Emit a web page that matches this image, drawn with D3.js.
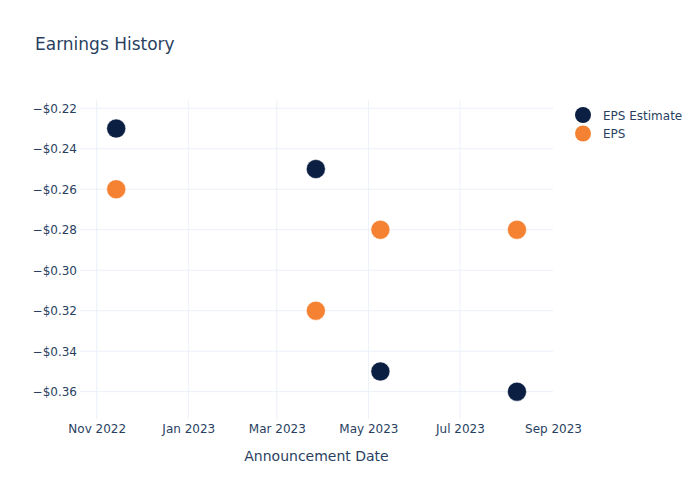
<!DOCTYPE html>
<html><head><meta charset="utf-8">
<script src="https://cdn.jsdelivr.net/npm/d3@7"></script>
<style>body{margin:0;background:#fff;font-family:"DejaVu Sans",sans-serif;}</style>
</head><body><div id="chart"></div>
<script>
const dates = ["2022-11-14","2023-03-27","2023-05-09","2023-08-08"];
const epsEstimate = [-0.23,-0.25,-0.35,-0.36];
const eps = [-0.26,-0.32,-0.28,-0.28];
const seriesNames = ["EPS Estimate","EPS"];
const seriesColors = ["#0b1f42","#f58232"];
const xTicks = ["2022-11-01","2023-01-01","2023-03-01","2023-05-01","2023-07-01","2023-09-01"];
const yTicks = [-0.22,-0.24,-0.26,-0.28,-0.30,-0.32,-0.34,-0.36];

const W=700,H=500, L=80, R=553, T=100, B=419;
const FONT="'DejaVu Sans',sans-serif";
const parse = d3.utcParse("%Y-%m-%d");
const svg = d3.select("#chart").append("svg").attr("width",W).attr("height",H);
const x = d3.scaleUtc().domain([new Date(Date.UTC(2022,9,20,21)), new Date(Date.UTC(2023,8,1))]).range([L,R]);
const y = d3.scaleLinear().domain([-0.3735,-0.2159]).range([B,T]);
const txt="#2a3f5f", grid="#ebf0f8";

// gridlines
svg.append("g").selectAll("line").data(xTicks.map(parse).filter(d=>x(d)<R-1)).join("line")
  .attr("x1",d=>x(d)).attr("x2",d=>x(d)).attr("y1",T).attr("y2",B).attr("stroke",grid).attr("stroke-width",1);
svg.append("g").selectAll("line").data(yTicks).join("line")
  .attr("x1",L).attr("x2",R).attr("y1",d=>y(d)).attr("y2",d=>y(d)).attr("stroke",grid).attr("stroke-width",1);

// axes
const fmt = d3.format("$.2f");
const yAxis = d3.axisLeft(y).tickValues(yTicks).tickFormat(fmt).tickSize(0).tickPadding(2);
const gy = svg.append("g").attr("transform",`translate(${L-1},0)`).call(yAxis);
gy.select(".domain").remove();
gy.selectAll("text").attr("fill",txt).style("font-size","12px").style("font-family",FONT);

const xAxis = d3.axisBottom(x).tickValues(xTicks.map(parse)).tickFormat(d3.utcFormat("%b %Y")).tickSize(0).tickPadding(5);
const gx = svg.append("g").attr("transform",`translate(0,${B})`).call(xAxis);
gx.select(".domain").remove();
gx.selectAll("text").attr("fill",txt).style("font-size","12px").style("font-family",FONT);

// points
const series=[epsEstimate,eps];
series.forEach((vals,i)=>{
  svg.append("g").selectAll("circle").data(vals.map((v,j)=>({d:parse(dates[j]),v}))).join("circle")
    .attr("cx",d=>x(d.d)).attr("cy",d=>y(d.v)).attr("r",9.5)
    .attr("fill",seriesColors[i]).attr("stroke","#fff").attr("stroke-width",0.5);
});

// title
svg.append("text").attr("x",35).attr("y",50).text("Earnings History")
  .attr("fill",txt).style("font-size","17px").style("font-family",FONT);
svg.append("text").attr("x",(L+R)/2).attr("y",461).attr("text-anchor","middle").text("Announcement Date")
  .attr("fill",txt).style("font-size","14px").style("font-family",FONT);

// legend
seriesNames.forEach((n,i)=>{
  const g=svg.append("g").attr("transform",`translate(583,${115+i*18.5})`);
  g.append("circle").attr("r",8).attr("fill",seriesColors[i]);
  g.append("text").attr("x",20).attr("y",4.5).text(n).attr("fill",txt)
    .style("font-size","12px").style("font-family",FONT);
});
</script></body></html>
